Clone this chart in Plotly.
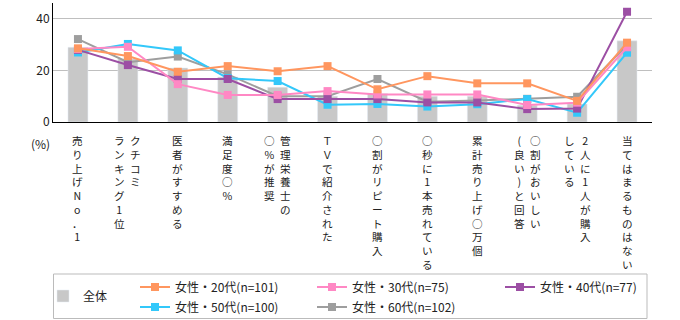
import plotly.graph_objects as go

# ---- data ----
categories = list(range(12))
tick_labels = [
    ["売り上げNo．1"],
    ["クチコミ", "ランキング1位"],
    ["医者がすすめる"],
    ["満足度○%"],
    ["管理栄養士の", "○%が推奨"],
    ["ＴＶで紹介された"],
    ["○割がリピート購入"],
    ["○秒に1本売れている"],
    ["累計売り上げ○万個"],
    ["○割がおいしい", "(良い)と回答"],
    ["2人に1人が購入", "している"],
    ["当てはまるものはない"],
]
zentai = [29, 24.5, 21, 17.5, 13.5, 10, 11, 10, 10, 6.5, 7, 31.5]
f20 = [28.6, 25.6, 19.5, 21.7, 19.7, 21.7, 12.7, 17.8, 15, 15, 8.2, 30.8]
f30 = [28.3, 29.2, 14.7, 10.5, 10.5, 12, 10.7, 10.7, 10.7, 6.6, 7.5, 29]
f40 = [28, 22.1, 16.7, 16.7, 8.9, 8.9, 8.9, 7.6, 7.6, 5, 5.2, 42.8]
f50 = [27, 30.3, 27.8, 17, 15.9, 6.7, 7, 6, 6.9, 8.9, 3.6, 26.9]
f60 = [32.2, 23.2, 25.4, 18.5, 10, 10, 16.7, 7.9, 8.3, 9, 9.8, 30]
y_ticks = [0, 20, 40]

names = ["女性・20代(n=101)", "女性・30代(n=75)", "女性・40代(n=77)",
         "女性・50代(n=100)", "女性・60代(n=102)"]
series = [f20, f30, f40, f50, f60]
colors = ["#FF965F", "#FF88C4", "#9C4FA4", "#33C8FA", "#9E9E9E"]

W, H = 680, 320
L, R, T, B = 53, 28, 3, 198
PW, PH = W - L - R, H - T - B
FONT = "Noto Sans CJK JP"

def px(x):
    return (x - L) / PW

def py(y):
    return (H - B - y) / PH

fig = go.Figure()
fig.add_trace(go.Bar(x=categories, y=zentai, name="全体", marker_color="#C8C8C8",
                     width=0.4, legend="legend"))

# legend placement (pixel positions)
leg_pos = [(135, 287), (312, 287), (500, 287), (135, 307), (312, 307)]
for i in reversed(range(5)):
    fig.add_trace(go.Scatter(
        x=categories, y=series[i], name=names[i], mode="lines+markers",
        line=dict(color=colors[i], width=2),
        marker=dict(symbol="square", size=8, color=colors[i]),
        legend=f"legend{i+2}"))

layout_legends = {}
layout_legends["legend"] = dict(x=px(43), y=py(296), xanchor="left", yanchor="middle",
                                bgcolor="rgba(0,0,0,0)", font=dict(size=12, family=FONT, color="#222"))
for i, (lx, ly) in enumerate(leg_pos):
    layout_legends[f"legend{i+2}"] = dict(x=px(lx), y=py(ly), xanchor="left", yanchor="middle",
                                          bgcolor="rgba(0,0,0,0)",
                                          font=dict(size=12, family=FONT, color="#222"))

annotations = []
for i, cols in enumerate(tick_labels):
    n = len(cols)
    for j, col in enumerate(cols):
        annotations.append(dict(
            x=categories[i], y=py(131), xref="x", yref="paper",
            text="<br>".join(list(col)), showarrow=False,
            xanchor="center", yanchor="top", align="center",
            xshift=((n - 1) / 2 - j) * 16,
            font=dict(size=10.6, family=FONT, color="#222")))
annotations.append(dict(x=px(40), y=py(143), xref="paper", yref="paper", text="(%)",
                        showarrow=False, xanchor="center", yanchor="middle",
                        font=dict(size=12, family=FONT, color="#222")))

fig.update_layout(
    width=W, height=H, margin=dict(l=L, r=R, t=T, b=B, autoexpand=False),
    plot_bgcolor="white", paper_bgcolor="white",
    showlegend=True,
    annotations=annotations,
    shapes=[dict(type="rect", xref="paper", yref="paper",
                 x0=px(53.5), x1=px(647), y0=py(274), y1=py(318.5),
                 line=dict(color="#BBBBBB", width=1), fillcolor="rgba(0,0,0,0)")],
    **layout_legends,
)
fig.update_xaxes(range=[-0.5, 11.5], showticklabels=False, ticks="", showgrid=False,
                 showline=True, linecolor="black", linewidth=1, zeroline=False)
fig.update_yaxes(range=[0, 46.2], tickvals=y_ticks, showgrid=True, gridcolor="#BFBFBF",
                 gridwidth=1, showline=True, linecolor="black", linewidth=1, zeroline=False,
                 ticks="", tickfont=dict(size=12, family=FONT, color="#222"))

fig.write_html("out.html")
